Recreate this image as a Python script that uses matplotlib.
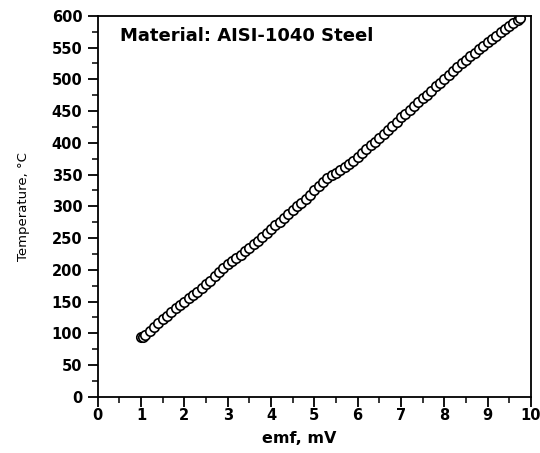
import matplotlib
matplotlib.use('Agg')
import matplotlib.pyplot as plt
from matplotlib.ticker import MultipleLocator

plt.rcParams['font.family'] = ['DejaVu Sans']

# emf (mV) and temperature (°C)
emf = [1.0, 1.05, 1.1, 1.2, 1.3, 1.4, 1.5, 1.6, 1.7, 1.8, 1.9,
       2.0, 2.1, 2.2, 2.3, 2.4, 2.5, 2.6, 2.7, 2.8, 2.9,
       3.0, 3.1, 3.2, 3.3, 3.4, 3.5, 3.6, 3.7, 3.8, 3.9,
       4.0, 4.1, 4.2, 4.3, 4.4, 4.5, 4.6, 4.7, 4.8, 4.9,
       5.0, 5.1, 5.2, 5.3, 5.4, 5.5, 5.6, 5.7, 5.8, 5.9,
       6.0, 6.1, 6.2, 6.3, 6.4, 6.5, 6.6, 6.7, 6.8, 6.9,
       7.0, 7.1, 7.2, 7.3, 7.4, 7.5, 7.6, 7.7, 7.8, 7.9,
       8.0, 8.1, 8.2, 8.3, 8.4, 8.5, 8.6, 8.7, 8.8, 8.9,
       9.0, 9.1, 9.2, 9.3, 9.4, 9.5, 9.6, 9.7, 9.75]
temp = [95, 94, 98, 104, 110, 116, 122, 128, 134, 140, 145,
        150, 155, 160, 165, 171, 177, 183, 190, 197, 203,
        209, 214, 219, 224, 229, 235, 240, 246, 252, 258,
        264, 270, 276, 282, 288, 294, 300, 306, 312, 318,
        325, 332, 339, 345, 349, 353, 357, 362, 367, 372,
        378, 384, 390, 396, 402, 408, 414, 420, 427, 433,
        440, 446, 452, 458, 464, 470, 476, 482, 489, 495,
        501, 507, 513, 519, 525, 531, 537, 542, 548, 553,
        559, 564, 569, 574, 579, 584, 589, 594, 597]

material = 'Material: AISI-1040 Steel'

fig = plt.figure(figsize=(5.4, 4.53), dpi=100)
ax = fig.add_axes([0.181, 0.124, 0.802, 0.841])

ax.plot(emf, temp, 'o', markerfacecolor='white', markeredgecolor='black',
        markersize=6.8, markeredgewidth=1.2, linestyle='none')

ax.set_xlim(0, 10)
ax.set_ylim(0, 600)
ax.xaxis.set_major_locator(MultipleLocator(1))
ax.xaxis.set_minor_locator(MultipleLocator(0.5))
ax.yaxis.set_major_locator(MultipleLocator(50))
ax.yaxis.set_minor_locator(MultipleLocator(25))
ax.tick_params(which='major', direction='out', length=7, width=1.3,
               labelsize=10.5, top=False, right=False)
ax.tick_params(axis='x', which='major', pad=1)
ax.tick_params(axis='y', which='major', pad=4)
ax.tick_params(which='minor', direction='out', length=4, width=1.1,
               top=False, right=False)
for lab in ax.get_xticklabels() + ax.get_yticklabels():
    lab.set_fontweight('bold')
for sp in ax.spines.values():
    sp.set_linewidth(1.3)

ax.set_xlabel('emf, mV', fontsize=11.5, fontweight='bold')
ax.xaxis.set_label_coords(0.465, -0.09)
ax.set_ylabel('Temperature, °C', fontsize=9.5, fontweight='medium')
ax.yaxis.set_label_coords(-0.156, 0.5)
ax.text(0.052, 0.97, material, transform=ax.transAxes, fontsize=13,
        fontweight='bold', va='top', ha='left')

fig.savefig('out.png', dpi=100)
